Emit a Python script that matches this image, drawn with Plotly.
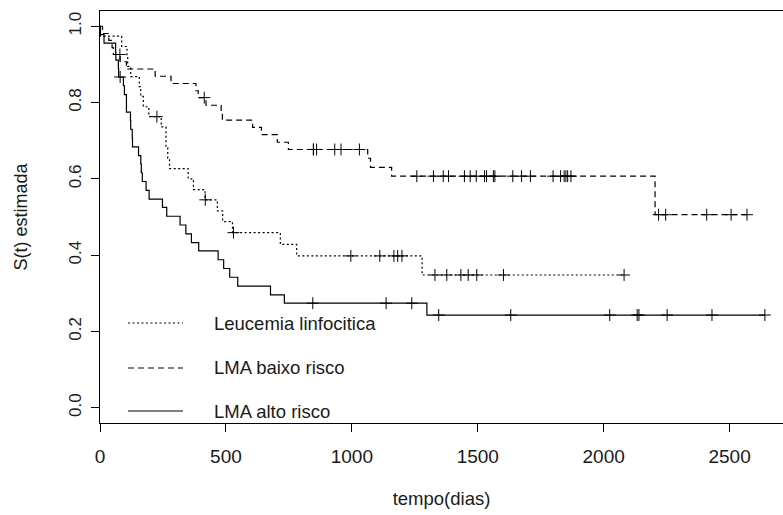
import plotly.graph_objects as go

# Kaplan-Meier step values
ALL_t = [0, 1, 86, 107, 110, 122, 156, 162, 172, 194, 243, 262, 269, 276, 350, 371,
         417, 466, 487, 526, 716, 781, 1279, 2081]
ALL_s = [1.0, 0.974, 0.947, 0.921, 0.895, 0.868, 0.842, 0.816, 0.789, 0.763, 0.736,
         0.681, 0.654, 0.627, 0.600, 0.572, 0.545, 0.516, 0.488, 0.459, 0.428, 0.398,
         0.348, 0.348]
ALL_cens_t = [226, 418, 530, 996, 1111, 1167, 1182, 1199, 1330, 1377, 1433, 1462,
              1496, 1602, 2081]
ALL_cens_s = [0.763, 0.545, 0.459, 0.398, 0.398, 0.398, 0.398, 0.398, 0.348, 0.348,
              0.348, 0.348, 0.348, 0.348, 0.348]

LOW_t = [0, 10, 35, 48, 53, 80, 105, 219, 282, 381, 390, 421, 481, 486, 606, 641,
         704, 748, 1063, 1074, 1158, 2204, 2569]
LOW_s = [1.0, 0.981, 0.963, 0.944, 0.926, 0.907, 0.888, 0.869, 0.850, 0.831, 0.813,
         0.793, 0.774, 0.754, 0.735, 0.716, 0.696, 0.677, 0.654, 0.630, 0.607, 0.506,
         0.506]
LOW_cens_t = [79, 414, 847, 848, 860, 932, 957, 1030, 1258, 1324, 1363, 1384, 1447,
              1470, 1494, 1527, 1535, 1562, 1568, 1639, 1674, 1709, 1799, 1829, 1843,
              1850, 1857, 1870, 2218, 2246, 2409, 2506, 2569]
LOW_cens_s = [0.926, 0.813] + [0.677] * 6 + [0.607] * 20 + [0.506] * 5

HIGH_t = [0, 2, 16, 62, 63, 73, 74, 93, 97, 105, 121, 122, 128, 129, 153, 162, 164,
          168, 183, 195, 248, 265, 318, 341, 363, 392, 469, 491, 515, 547, 677, 732,
          1298, 2640]
HIGH_s = [1.0, 0.978, 0.956, 0.933, 0.911, 0.889, 0.867, 0.844, 0.821, 0.775, 0.753,
          0.730, 0.707, 0.684, 0.661, 0.639, 0.616, 0.593, 0.570, 0.547, 0.525, 0.502,
          0.479, 0.456, 0.433, 0.411, 0.388, 0.365, 0.342, 0.319, 0.296, 0.274, 0.243,
          0.243]
HIGH_cens_t = [80, 845, 1136, 1238, 1345, 1631, 2024, 2133, 2140, 2252, 2430, 2640]
HIGH_cens_s = [0.867, 0.274, 0.274, 0.274, 0.243, 0.243, 0.243, 0.243, 0.243, 0.243,
               0.243, 0.243]

labels = ["Leucemia linfocitica", "LMA baixo risco", "LMA alto risco"]
x_ticks = [0, 500, 1000, 1500, 2000, 2500]
y_ticks = [0.0, 0.2, 0.4, 0.6, 0.8, 1.0]
y_ticktext = ["0.0", "0.2", "0.4", "0.6", "0.8", "1.0"]

FONT = "Liberation Sans, Arial, sans-serif"
dashes = ["2px,2.5px", "6px,4px", "solid"]
series = [(ALL_t, ALL_s, ALL_cens_t, ALL_cens_s),
          (LOW_t, LOW_s, LOW_cens_t, LOW_cens_s),
          (HIGH_t, HIGH_s, HIGH_cens_t, HIGH_cens_s)]

fig = go.Figure()
for (t, s, ct, cs), lab, d in zip(series, labels, dashes):
    fig.add_trace(go.Scatter(x=t, y=s, mode="lines", line_shape="hv", name=lab,
                             line=dict(color="black", width=1.2, dash=d),
                             showlegend=False))
    fig.add_trace(go.Scatter(x=ct, y=cs, mode="markers", name=lab + " (censura)",
                             marker=dict(symbol="cross-thin", size=8.5, color="black",
                                         line=dict(color="black", width=1)),
                             showlegend=False))

# legend drawn manually (R style, no box)
leg_y = [0.2427, 0.1335, 0.0291]
for lab, d, yy in zip(labels, dashes, leg_y):
    fig.add_shape(type="line", xref="paper", yref="paper", x0=0.041, x1=0.1215,
                  y0=yy, y1=yy, line=dict(color="black", width=1.2, dash=d))
    fig.add_annotation(xref="paper", yref="paper", x=0.164, y=yy, text=lab,
                       showarrow=False, xanchor="left", yanchor="middle",
                       font=dict(family=FONT, size=18.5, color="#1a1a1a"))

fig.update_layout(
    width=783, height=515,
    margin=dict(l=100, r=0, t=11, b=92),
    paper_bgcolor="white", plot_bgcolor="white",
    font=dict(family=FONT, size=18, color="#1a1a1a"),
    xaxis=dict(range=[0, 2712], tickvals=x_ticks, ticks="outside", ticklen=8,
               tickcolor="black", showline=True, linecolor="black", linewidth=1,
               mirror=True, showgrid=False, zeroline=False, ticklabelstandoff=8,
               tickfont=dict(size=19),
               title=dict(text="tempo(dias)", standoff=26, font=dict(size=18.5)),
               automargin=False),
    yaxis=dict(range=[-0.04, 1.04], tickvals=y_ticks, ticktext=y_ticktext,
               tickangle=-90, ticks="outside", ticklen=8, tickcolor="black",
               showline=True, linecolor="black", linewidth=1, mirror=False,
               showgrid=False, zeroline=False, ticklabelstandoff=3,
               tickfont=dict(size=17),
               title=dict(text="S(t) estimada", standoff=33, font=dict(size=18)),
               automargin=False),
)

fig.write_html("out.html", config={"displayModeBar": False},
               post_script="document.body.style.margin='0';")
